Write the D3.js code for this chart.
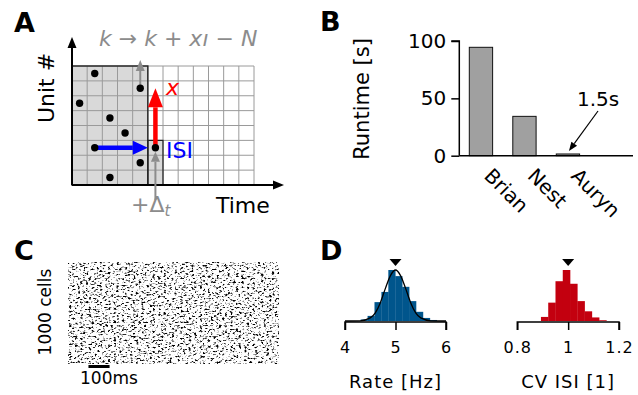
<!DOCTYPE html>
<html><head><meta charset="utf-8">
<script src="https://cdn.jsdelivr.net/npm/d3@7"></script>
<style>
body{margin:0;background:#fff}
svg{display:block;font-family:"DejaVu Sans",sans-serif}
</style>
</head><body>
<svg id="fig" width="638" height="395"></svg>
<script>
// ---------------- data ----------------
// Panel A: schematic grid (units x time bins) and the spikes in it
const gridCols = 12, gridRows = 8, shadedCols = 5;
const spikeCol = [1, 4, 0, 2, 3, 1, 5, 4, 2];
const spikeRow = [0, 1, 2, 3, 4, 5, 5, 6, 7];

// Panel B: runtime per simulator
const simulators = ["Brian", "Nest", "Auryn"];
const runtimes = [94.5, 34.3, 1.5];
const runtimeTicks = [0, 50, 100];

// Panel D: histograms (relative counts, peak = 100)
const rateEdges = [4.31, 4.447, 4.584, 4.721, 4.858, 4.995, 5.132, 5.269, 5.406, 5.543, 5.68, 5.817];
const rateCounts = [3, 10, 37, 57, 100, 88, 67, 39, 18, 6, 2];
const rateTicks = [4, 5, 6];
const rateFitX = [4.0, 4.3, 4.5, 4.6, 4.7, 4.8, 4.9, 5.0, 5.1, 5.2, 5.3, 5.4, 5.5, 5.7, 6.0];
const rateFitY = [0, 0.4, 6, 16, 36, 64, 89, 100, 89, 64, 36, 16, 6, 0.4, 0];
const rateMean = 5.0;

const cvEdges = [0.893, 0.9216, 0.9502, 0.9788, 1.0074, 1.036, 1.0646, 1.0932, 1.1218, 1.1504];
const cvCounts = [8, 36, 78, 100, 73, 39, 19, 7, 1.5];
const cvTicks = [0.8, 1, 1.2];
const cvMean = 1.0;

// ---------------- drawing ----------------
const svg = d3.select("#fig");
const GRAY = "#8c8c8c";

function arrow(g, x1, y1, x2, y2, color, lw, headLen, headW) {
  const a = Math.atan2(y2 - y1, x2 - x1);
  const bx = x2 - headLen * Math.cos(a), by = y2 - headLen * Math.sin(a);
  g.append("line").attr("x1", x1).attr("y1", y1).attr("x2", bx).attr("y2", by)
    .attr("stroke", color).attr("stroke-width", lw);
  const px = Math.sin(a) * headW / 2, py = -Math.cos(a) * headW / 2;
  g.append("path").attr("d", `M${x2},${y2}L${bx + px},${by + py}L${bx - px},${by - py}Z`)
    .attr("fill", color);
}

function panelLabel(t, x, y) {
  svg.append("text").attr("x", x).attr("y", y).text(t)
    .attr("font-size", 27).attr("font-weight", "bold").attr("fill", "#000");
}

// ===== Panel A =====
{
  const g = svg.append("g");
  const xA = d3.scaleLinear().domain([0, gridCols]).range([72, 254]);
  const yA = d3.scaleLinear().domain([0, gridRows]).range([66, 185]);
  g.append("rect").attr("x", xA(0)).attr("y", yA(0))
    .attr("width", xA(shadedCols) - xA(0)).attr("height", yA(gridRows) - yA(0)).attr("fill", "#d9d9d9");
  g.append("rect").attr("x", xA(5)).attr("y", yA(5))
    .attr("width", xA(6) - xA(5)).attr("height", yA(8) - yA(5)).attr("fill", "#d9d9d9");
  g.selectAll(".vl").data(d3.range(1, gridCols + 1)).join("line")
    .attr("x1", d => xA(d)).attr("x2", d => xA(d)).attr("y1", yA(0)).attr("y2", yA(gridRows))
    .attr("stroke", "#9a9a9a").attr("stroke-width", 1);
  g.selectAll(".hl").data(d3.range(0, gridRows)).join("line")
    .attr("y1", d => yA(d)).attr("y2", d => yA(d)).attr("x1", xA(0)).attr("x2", xA(gridCols))
    .attr("stroke", "#9a9a9a").attr("stroke-width", 1);
  g.append("rect").attr("x", xA(0)).attr("y", yA(0))
    .attr("width", xA(shadedCols) - xA(0)).attr("height", yA(gridRows) - yA(0))
    .attr("fill", "none").attr("stroke", "#222").attr("stroke-width", 1.4);
  g.append("rect").attr("x", xA(5)).attr("y", yA(5))
    .attr("width", xA(6) - xA(5)).attr("height", yA(8) - yA(5))
    .attr("fill", "none").attr("stroke", "#222").attr("stroke-width", 1.2);
  arrow(g, xA(0), yA(gridRows), xA(0), 37, "#000", 2, 11, 9);
  arrow(g, xA(0), yA(gridRows), 284, yA(gridRows), "#000", 2, 11, 9);

  const cx = i => xA(spikeCol[i] + 0.5), cy = i => yA(spikeRow[i] + 0.5);
  arrow(g, cx(1), cy(1), cx(1), yA(0) - 6, GRAY, 2, 11, 9);
  arrow(g, cx(6), yA(gridRows) + 15, cx(6), cy(6) + 4, GRAY, 2, 10, 9);
  arrow(g, cx(6), cy(6), cx(6), yA(1.5), "#ff0000", 4.5, 19, 15);
  arrow(g, cx(5), cy(5), xA(5), cy(5), "#0000ff", 4.5, 15, 14);
  g.selectAll(".dot").data(d3.range(spikeCol.length)).join("circle")
    .attr("cx", cx).attr("cy", cy).attr("r", 3.7).attr("fill", "#000");
  g.append("text").attr("x", 166).attr("y", 95).attr("font-size", 22)
    .attr("font-style", "italic").attr("fill", "#ff0000").text("x");
  g.append("text").attr("x", 166).attr("y", 158).attr("font-size", 22)
    .attr("fill", "#0000ff").text("ISI");
  const t1 = g.append("text").attr("x", 99).attr("y", 46).attr("font-size", 22).attr("fill", GRAY)
    .attr("xml:space", "preserve");
  [["k", 1], [" → ", 0], ["k", 1], [" + ", 0], ["x", 1], ["ı", 1], [" − ", 0], ["N", 1]].forEach(([s, it]) =>
    t1.append("tspan").attr("font-style", it ? "italic" : "normal").text(s));
  const t2 = g.append("text").attr("x", 131).attr("y", 212).attr("font-size", 22).attr("fill", GRAY);
  t2.append("tspan").text("+Δ");
  t2.append("tspan").attr("font-size", 15).attr("font-style", "italic").attr("dy", 4).text("t");
  g.append("text").attr("x", 216).attr("y", 213).attr("font-size", 22).text("Time");
  g.append("text").attr("transform", "translate(54,88) rotate(-90)").attr("text-anchor", "middle")
    .attr("font-size", 22).text("Unit #");
  panelLabel("A", 14, 32);
}

// ===== Panel B =====
{
  const g = svg.append("g");
  const y = d3.scaleLinear().domain([0, 100]).range([155.7, 41]);
  const x = d3.scaleBand().domain(simulators).range([459.3, 589.6]).paddingInner(0.464).paddingOuter(0.23);
  g.selectAll(".bar").data(simulators).join("rect")
    .attr("x", d => x(d)).attr("width", x.bandwidth())
    .attr("y", (d, i) => y(runtimes[i])).attr("height", (d, i) => y(0) - y(runtimes[i]))
    .attr("fill", "#a0a0a0").attr("stroke", "#111").attr("stroke-width", 1);
  const ax = d3.axisLeft(y).tickValues(runtimeTicks).tickSize(8).tickPadding(5);
  const ag = g.append("g").attr("transform", "translate(459.3,0)").call(ax);
  ag.select(".domain").attr("stroke-width", 1.5).attr("d", `M-8,${y(100)}H0V${y(0)}`);
  ag.selectAll(".tick line").attr("stroke-width", 1.5);
  ag.selectAll("text").attr("font-size", 20).attr("font-family", "DejaVu Sans").attr("fill", "#000");
  g.append("line").attr("x1", 459.3).attr("x2", 633).attr("y1", y(0)).attr("y2", y(0))
    .attr("stroke", "#000").attr("stroke-width", 1.5);
  g.selectAll(".xl").data(simulators).join("text")
    .attr("transform", d => `translate(${x(d) + x.bandwidth() / 2 + 2},177) rotate(45)`)
    .attr("font-size", 20).text(d => d);
  const au = simulators[2];
  g.append("text").attr("x", 577).attr("y", 106).attr("font-size", 20).text(runtimes[2] + "s");
  arrow(g, 598, 111, x(au) + x.bandwidth() / 2 + 1, y(runtimes[2]) - 3, "#000", 1.2, 9, 7);
  g.append("text").attr("transform", "translate(369,99) rotate(-90)").attr("text-anchor", "middle")
    .attr("font-size", 21).text("Runtime [s]");
  panelLabel("B", 320, 31);
}

// ===== Panel C =====
{
  const g = svg.append("g");
  const t = d3.scaleLinear().domain([0, 1000]).range([68, 279]);
  const cells = d3.scaleLinear().domain([0, 1000]).range([364, 262]);
  // 1000-cell raster: too dense to read spike by spike, drawn as a speckle texture
  const defs = svg.append("defs");
  const f = defs.append("filter").attr("id", "raster").attr("x", 0).attr("y", 0)
    .attr("width", 1).attr("height", 1).attr("color-interpolation-filters", "sRGB");
  f.append("feTurbulence").attr("type", "fractalNoise").attr("baseFrequency", "0.36 0.55")
    .attr("numOctaves", 2).attr("seed", 11).attr("result", "n");
  f.append("feColorMatrix").attr("type", "matrix")
    .attr("values", "0 0 0 0 0  0 0 0 0 0  0 0 0 0 0  0 5.5 0 0 -2.95");
  g.append("rect").attr("x", t(0)).attr("y", cells(1000)).attr("width", t(1000) - t(0))
    .attr("height", cells(0) - cells(1000)).attr("fill", "#000").attr("filter", "url(#raster)");
  g.append("line").attr("x1", t(97)).attr("x2", t(197)).attr("y1", 366.5).attr("y2", 366.5)
    .attr("stroke", "#000").attr("stroke-width", 3);
  g.append("text").attr("x", 80).attr("y", 384).attr("font-size", 17).text("100ms");
  g.append("text").attr("transform", "translate(51,312) rotate(-90)").attr("text-anchor", "middle")
    .attr("font-size", 17).text("1000 cells");
  panelLabel("C", 14, 260);
}

// ===== Panel D =====
function hist(edges, counts, ticks, domain, range, color, mean, label, fitX, fitY) {
  const g = svg.append("g");
  const x = d3.scaleLinear().domain(domain).range(range);
  const y = d3.scaleLinear().domain([0, 100]).range([321, 270]);
  g.selectAll(".b").data(counts).join("rect")
    .attr("x", (d, i) => x(edges[i])).attr("width", (d, i) => x(edges[i + 1]) - x(edges[i]) + 0.3)
    .attr("y", d => y(d)).attr("height", d => y(0) - y(d)).attr("fill", color);
  if (fitX) {
    g.append("path").datum(fitX.map((v, i) => [v, fitY[i]]))
      .attr("d", d3.line().x(d => x(d[0])).y(d => y(d[1])).curve(d3.curveMonotoneX))
      .attr("fill", "none").attr("stroke", "#000").attr("stroke-width", 1.3);
  }
  g.append("path").attr("d", `M${x(mean) - 6},259L${x(mean) + 6},259L${x(mean)},266Z`).attr("fill", "#000");
  const ax = d3.axisBottom(x).tickValues(ticks).tickSize(8).tickPadding(12).tickFormat(d3.format("~g"));
  const ag = g.append("g").attr("transform", "translate(0,322)").call(ax);
  ag.select(".domain").attr("stroke-width", 1.5).attr("d", `M${range[0]},8V0H${range[1]}V8`);
  ag.selectAll(".tick line").attr("stroke-width", 1.5);
  ag.selectAll("text").attr("font-size", 16).attr("font-family", "DejaVu Sans").attr("fill", "#000")
    .attr("letter-spacing", 1);
  g.append("text").attr("x", (range[0] + range[1]) / 2).attr("y", 388).attr("text-anchor", "middle")
    .attr("font-size", 18).attr("letter-spacing", 1).text(label);
}
hist(rateEdges, rateCounts, rateTicks, [4, 6], [345, 446], "#00558c", rateMean, "Rate [Hz]", rateFitX, rateFitY);
hist(cvEdges, cvCounts, cvTicks, [0.8, 1.2], [517.3, 619], "#c3000f", cvMean, "CV ISI [1]");
panelLabel("D", 320, 260);
</script>
</body></html>
